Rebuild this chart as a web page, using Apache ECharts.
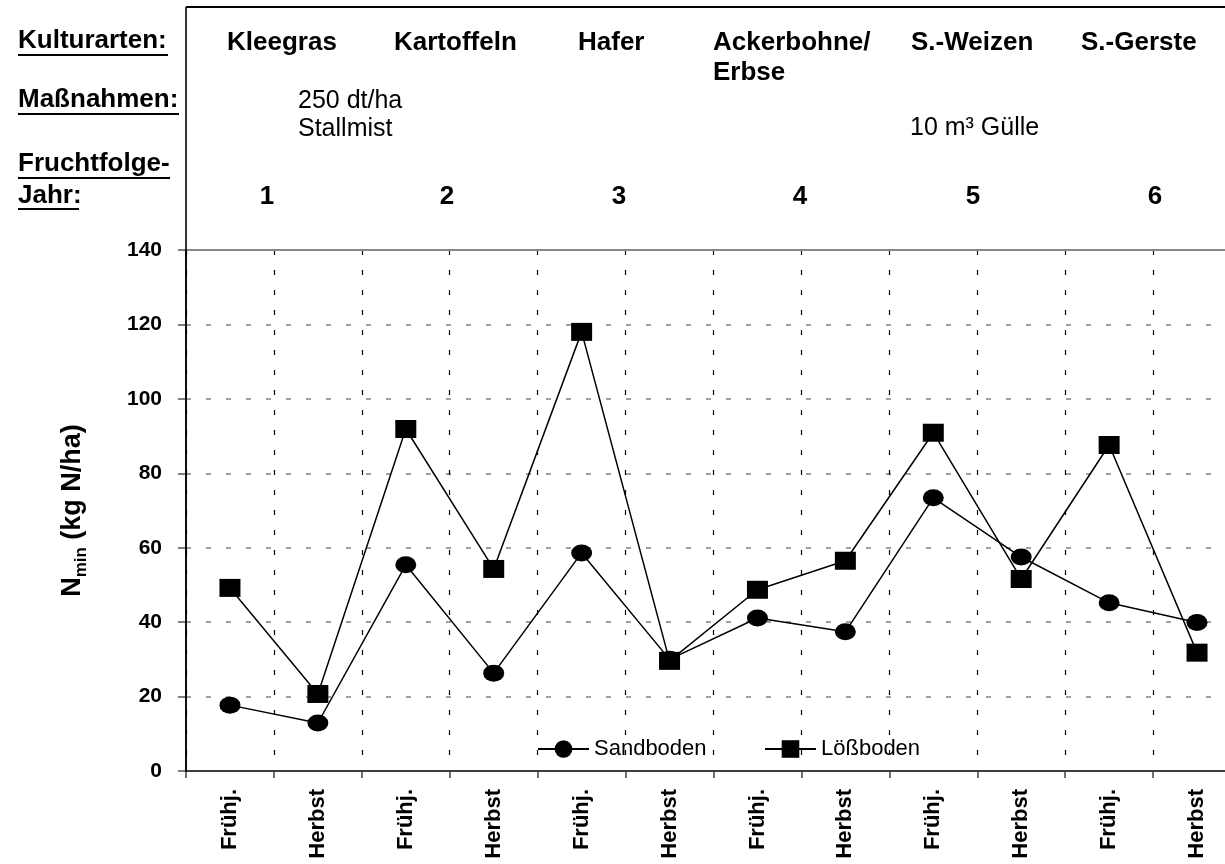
<!DOCTYPE html>
<html>
<head>
<meta charset="utf-8">
<script src="https://cdn.jsdelivr.net/npm/echarts@6/dist/echarts.min.js"></script>
<style>html,body{margin:0;padding:0;background:#fff}#c{width:1225px;height:864px}</style>
</head>
<body>
<div id="c"></div>
<script>
// ---- data ----
var categories = ['Frühj.','Herbst','Frühj.','Herbst','Frühj.','Herbst','Frühj.','Herbst','Frühj.','Herbst','Frühj.','Herbst'];
var sandboden = [17.7, 12.9, 55.4, 26.3, 58.6, 30.0, 41.1, 37.4, 73.4, 57.5, 45.2, 39.9];
var loessboden = [49.2, 20.7, 91.9, 54.3, 118.0, 29.6, 48.7, 56.5, 90.9, 51.6, 87.6, 31.8];
var yTicks = [0, 20, 40, 60, 80, 100, 120, 140];
var crops = ['Kleegras', 'Kartoffeln', 'Hafer', 'Ackerbohne/\nErbse', 'S.-Weizen', 'S.-Gerste'];
var years = ['1', '2', '3', '4', '5', '6'];
var measures = ['250 dt/ha\nStallmist', '10 m³ Gülle'];
var rowLabels = ['Kulturarten:', 'Maßnahmen:', 'Fruchtfolge-', 'Jahr:'];

// ---- layout ----
var FONT = '"Liberation Sans", Arial, sans-serif';
var cropX = [227, 394, 578, 713, 911, 1081];
var yearX = [267, 447, 619, 800, 973, 1155];
var measureXY = [[298, 101], [910, 128]];
var rowY = [42, 101, 165, 197];
var underlineW = [150, 161, 152, 61];
var underlineY = [55, 114, 178, 209];

var chart = echarts.init(document.getElementById('c'), null, {renderer: 'canvas'});

var graphic = [];
graphic.push({type: 'line', shape: {x1: 186, y1: 7, x2: 1225, y2: 7}, style: {stroke: '#000', lineWidth: 2}});
graphic.push({type: 'line', shape: {x1: 186, y1: 7, x2: 186, y2: 772}, style: {stroke: '#000', lineWidth: 1.6}, z: 100});
rowLabels.forEach(function (t, i) {
  graphic.push({type: 'text', left: 18, top: rowY[i] - 14, style: {text: t, font: 'bold 26px ' + FONT, fill: '#000'}});
  graphic.push({type: 'line', shape: {x1: 18, y1: underlineY[i], x2: 18 + underlineW[i], y2: underlineY[i]}, style: {stroke: '#000', lineWidth: 2}});
});
crops.forEach(function (t, i) {
  graphic.push({type: 'text', left: cropX[i], top: rowY[0] - 14, style: {text: t, font: 'bold 26px ' + FONT, fill: '#000', lineHeight: 30}});
});
measures.forEach(function (t, i) {
  graphic.push({type: 'text', left: measureXY[i][0], top: measureXY[i][1] - 14, style: {text: t, font: '25px ' + FONT, fill: '#000', lineHeight: 28}});
});
years.forEach(function (t, i) {
  graphic.push({type: 'text', x: yearX[i], y: rowY[3], style: {text: t, font: 'bold 26px ' + FONT, fill: '#000', align: 'center', verticalAlign: 'middle'}});
});

var option = {
  animation: false,
  backgroundColor: '#fff',
  textStyle: {fontFamily: FONT},
  grid: {left: 186, top: 250, width: 1055, height: 521, containLabel: false, outerBoundsMode: 'none'},
  legend: [
    {data: ['Sandboden'], left: 532, top: 733, itemWidth: 51, itemHeight: 22, itemGap: 0,
     textStyle: {fontSize: 22, color: '#000', fontFamily: FONT}},
    {data: ['Lößboden'], left: 759, top: 733, itemWidth: 51, itemHeight: 22, itemGap: 0,
     textStyle: {fontSize: 22, color: '#000', fontFamily: FONT}}
  ],
  xAxis: [
    {type: 'category', data: categories, boundaryGap: true, position: 'bottom',
     axisLine: {lineStyle: {color: '#404040', width: 2}},
     axisTick: {show: true, length: 7, lineStyle: {color: '#404040', width: 1.5}},
     axisLabel: {rotate: 90, margin: 18, fontSize: 22, fontWeight: 'bold', color: '#000', fontFamily: FONT, interval: 0},
     splitLine: {show: true, lineStyle: {color: '#000', type: [5, 15], width: 1.2}}},
    {type: 'category', data: categories, boundaryGap: true, position: 'top',
     axisLine: {show: true, lineStyle: {color: '#888', width: 2}},
     axisTick: {show: false}, axisLabel: {show: false}, splitLine: {show: false}}
  ],
  yAxis: {
    type: 'value', min: 0, max: 140, interval: 20,
    name: '{a|N}{b|min}{a| (kg N/ha)}', nameLocation: 'middle', nameGap: 100, nameRotate: 90,
    nameTextStyle: {rich: {
      a: {fontSize: 27, fontWeight: 'bold', color: '#000', fontFamily: FONT, verticalAlign: 'bottom'},
      b: {fontSize: 17, fontWeight: 'bold', color: '#000', fontFamily: FONT, verticalAlign: 'bottom', padding: [0, 0, -4, 0]}
    }},
    axisLine: {show: true, lineStyle: {color: '#000', width: 1.5}},
    axisTick: {show: true, inside: false, length: 8, lineStyle: {color: '#555', width: 1.5}},
    axisLabel: {margin: 24, fontSize: 21, fontWeight: 'bold', color: '#000', fontFamily: FONT,
      formatter: function (v) { return yTicks.indexOf(v) >= 0 ? String(v) : ''; }},
    splitLine: {show: true, lineStyle: {color: '#808080', type: [5, 15], width: 1.5}}
  },
  series: [
    {name: 'Sandboden', type: 'line', data: sandboden, symbol: 'circle', symbolSize: [21, 17],
     lineStyle: {color: '#000', width: 1.5}, itemStyle: {color: '#000'}, z: 3},
    {name: 'Lößboden', type: 'line', data: loessboden, symbol: 'rect', symbolSize: [21, 18],
     lineStyle: {color: '#000', width: 1.5}, itemStyle: {color: '#000'}, z: 4}
  ],
  graphic: graphic
};
chart.setOption(option);
</script>
</body>
</html>
